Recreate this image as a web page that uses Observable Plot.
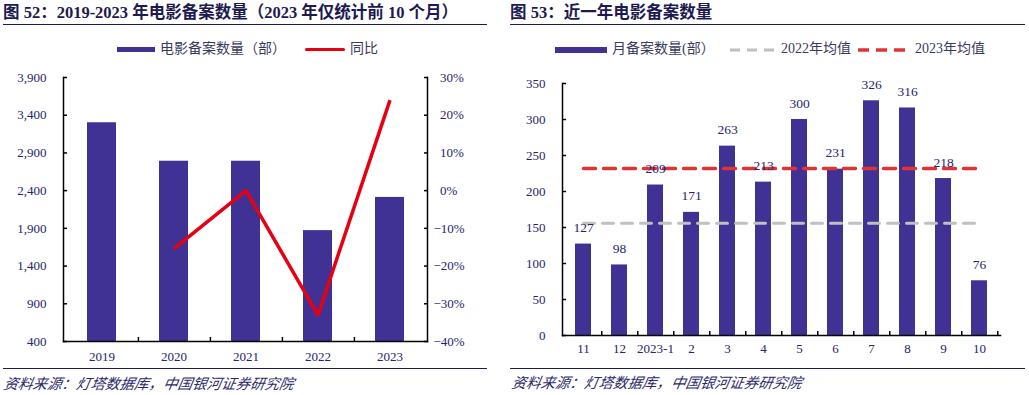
<!DOCTYPE html>
<html>
<head>
<meta charset="utf-8">
<script src="https://cdn.jsdelivr.net/npm/d3@7"></script>
<script src="https://cdn.jsdelivr.net/npm/@observablehq/plot@0.6"></script>
<style>
  html, body { margin: 0; padding: 0; background: #fff; }
  #root { position: relative; width: 1029px; height: 395px; overflow: hidden; font-family: "Liberation Serif", "Noto Sans CJK SC", serif; }
  .abs { position: absolute; white-space: nowrap; }
  .title { font-family: "Liberation Serif", "Noto Sans CJK SC", serif; font-weight: bold; font-size: 16.5px; color: #1c1a50; line-height: 18px; }
  .rule { position: absolute; height: 0; border-top: 1.5px solid #1c1a50; }
  .leg { font-family: "Liberation Serif", "Noto Sans CJK SC", serif; font-size: 14px; color: #3a3a5e; line-height: 16px; }
  .foot { font-family: "Noto Sans CJK SC", sans-serif; font-style: italic; font-size: 14.5px; color: #2c2a6c; line-height: 16px; transform: skewX(-10deg); transform-origin: left; }
  svg { display: block; }
</style>
</head>
<body>
<div id="root">
  <div class="abs title" style="left:3px; top:4px;">图 52：2019-2023 年电影备案数量（2023 年仅统计前 10 个月）</div>
  <div class="rule" style="left:3px; top:24px; width:484px;"></div>
  <div class="abs title" style="left:510px; top:4px;">图 53：近一年电影备案数量</div>
  <div class="rule" style="left:510px; top:24px; width:515px;"></div>

  <div class="abs" style="left:117px; top:47px; width:38px; height:5px; background:#3f3294;"></div>
  <div class="abs leg" style="left:160px; top:41px;">电影备案数量（部）</div>
  <div class="abs" style="left:305px; top:48px; width:40px; height:3px; background:#e60012; border-radius:1.5px;"></div>
  <div class="abs leg" style="left:350px; top:41px;">同比</div>

  <div class="abs" style="left:555px; top:47px; width:52px; height:6px; background:#3f3294;"></div>
  <div class="abs leg" style="left:612px; top:41px;">月备案数量(部）</div>
  <svg class="abs" style="left:728px; top:47px;" width="52" height="6"><line x1="2" x2="50" y1="3" y2="3" stroke="#c0c0c0" stroke-width="3" stroke-dasharray="10 7"/></svg>
  <div class="abs leg" style="left:781px; top:41px;">2022年均值</div>
  <svg class="abs" style="left:856px; top:47px;" width="56" height="6"><line x1="2" x2="54" y1="3" y2="3" stroke="#e03434" stroke-width="3.5" stroke-dasharray="11 7"/></svg>
  <div class="abs leg" style="left:915px; top:41px;">2023年均值</div>

  <div id="left" class="abs" style="left:0px; top:60px;"></div>
  <div id="right" class="abs" style="left:510px; top:60px;"></div>

  <div class="rule" style="left:3px; top:368px; width:484px;"></div>
  <div class="rule" style="left:510px; top:368px; width:515px;"></div>
  <div class="abs foot" style="left:4px; top:375px;">资料来源：灯塔数据库，中国银河证券研究院</div>
  <div class="abs foot" style="left:512px; top:374px;">资料来源：灯塔数据库，中国银河证券研究院</div>
</div>
<script>
// ---- Data: chart 52 ----
const years = ["2019", "2020", "2021", "2022", "2023"];
const filings = [3300, 2790, 2790, 1870, 2310];
const yoyYears = ["2020", "2021", "2022", "2023"];
const yoyPct = [-15.4, 0, -33, 24];
const countTicks = [400, 900, 1400, 1900, 2400, 2900, 3400, 3900];
const pctTicks = [-40, -30, -20, -10, 0, 10, 20, 30];

// ---- Data: chart 53 ----
const months = ["11", "12", "2023-1", "2", "3", "4", "5", "6", "7", "8", "9", "10"];
const monthly = [127, 98, 209, 171, 263, 213, 300, 231, 326, 316, 218, 76];
const avg2022 = 156;
const avg2023 = 232;
const monthTicks = [0, 50, 100, 150, 200, 250, 300, 350];

const navy = "#25236e";
const barColor = "#3f3294";
const serif = "'Liberation Serif', 'Times New Roman', serif";

// ---- Chart 52 ----
{
  const W = 510, H = 305, ml = 63, mr = 83, mt = 17, mb = 24;
  const yMin = countTicks[0], yMax = countTicks[countTicks.length - 1];
  const pMin = pctTicks[0], pMax = pctTicks[pctTicks.length - 1];
  const toCount = p => yMin + (p - pMin) / (pMax - pMin) * (yMax - yMin);
  const fromCount = v => pMin + (v - yMin) / (yMax - yMin) * (pMax - pMin);
  const bars = years.map((y, i) => ({year: y, value: filings[i]}));
  const line = yoyYears.map((y, i) => ({year: y, pct: yoyPct[i]}));
  const halfStep = (W - ml - mr) / years.length / 2;
  const pctFmt = v => { const p = Math.round(fromCount(v)); return p < 0 ? "\u2212" + (-p) + "%" : "\u2002" + p + "%"; };

  const chart = Plot.plot({
    width: W, height: H, marginLeft: ml, marginRight: mr, marginTop: mt, marginBottom: mb,
    style: {fontFamily: serif, fontSize: "13px", color: "#000", background: "transparent", overflow: "visible"},
    x: {domain: years, paddingInner: 0.6, paddingOuter: 0.3, label: null},
    y: {domain: [yMin, yMax], label: null},
    marks: [
      Plot.barY(bars, {x: "year", y1: yMin, y2: "value", fill: barColor}),
      Plot.line(line, {x: "year", y: d => toCount(d.pct), stroke: "#e60012", strokeWidth: 3.5, strokeLinejoin: "miter", strokeLinecap: "butt"}),
      Plot.frame({anchor: "left", stroke: "#000", strokeWidth: 1.5}),
      Plot.frame({anchor: "right", stroke: "#000", strokeWidth: 1.5}),
      Plot.frame({anchor: "bottom", stroke: "#000", strokeWidth: 1.5}),
      Plot.axisY({ticks: countTicks, tickSize: 0, tickPadding: 17, tickFormat: d3.format(","), fill: navy, label: null}),
      Plot.axisY({ticks: countTicks, tickSize: 4, dx: 4, fill: "none", stroke: "#000", strokeWidth: 1.5, label: null}),
      Plot.axisY({anchor: "right", ticks: pctTicks.map(toCount), tickSize: 0, tickPadding: 6, tickFormat: pctFmt, fill: navy, label: null}),
      Plot.axisY({anchor: "right", ticks: pctTicks.map(toCount), tickSize: 4, dx: -4, fill: "none", stroke: "#000", strokeWidth: 1.5, label: null}),
      Plot.axisX({tickSize: 0, tickPadding: 10, fill: navy, label: null}),
      Plot.axisX({ticks: years.slice(0, -1), tickSize: 4, dx: halfStep, dy: -4, fill: "none", stroke: "#000", strokeWidth: 1.5, label: null})
    ]
  });
  document.getElementById("left").appendChild(chart);
}

// ---- Chart 53 ----
{
  const W = 519, H = 305, ml = 52, mr = 29, mt = 23, mb = 30;
  const bars = months.map((m, i) => ({month: m, value: monthly[i]}));
  const halfStep = (W - ml - mr) / months.length / 2;
  const first = months[0], last = months[months.length - 1];
  const chart = Plot.plot({
    width: W, height: H, marginLeft: ml, marginRight: mr, marginTop: mt, marginBottom: mb,
    style: {fontFamily: serif, fontSize: "13px", color: "#000", background: "transparent", overflow: "visible"},
    x: {domain: months, paddingInner: 0.56, paddingOuter: 0.28, label: null},
    y: {domain: [monthTicks[0], monthTicks[monthTicks.length - 1]], label: null},
    marks: [
      Plot.barY(bars, {x: "month", y1: 0, y2: "value", fill: barColor}),
      Plot.line([{m: first, v: avg2022}, {m: last, v: avg2022}], {x: "m", y: "v", stroke: "#c0c0c0", strokeWidth: 3, strokeDasharray: "11 8"}),
      Plot.line([{m: first, v: avg2023}, {m: last, v: avg2023}], {x: "m", y: "v", stroke: "#e03434", strokeWidth: 3.5, strokeDasharray: "12 8"}),
      Plot.text(bars, {x: "month", y: "value", text: d => String(d.value), dy: -12, lineAnchor: "bottom", fill: navy, fontSize: 13.5}),
      Plot.frame({anchor: "left", stroke: "#000", strokeWidth: 1.5}),
      Plot.frame({anchor: "bottom", stroke: "#000", strokeWidth: 1.5}),
      Plot.axisY({ticks: monthTicks, tickSize: 0, tickPadding: 17, fill: navy, label: null}),
      Plot.axisY({ticks: monthTicks, tickSize: 4, dx: 4, fill: "none", stroke: "#000", strokeWidth: 1.5, label: null}),
      Plot.axisX({tickSize: 0, tickPadding: 8, fill: navy, label: null}),
      Plot.axisX({ticks: months, tickSize: 4, dx: halfStep, dy: -4, fill: "none", stroke: "#000", strokeWidth: 1.5, label: null})
    ]
  });
  document.getElementById("right").appendChild(chart);
}
</script>
</body>
</html>
